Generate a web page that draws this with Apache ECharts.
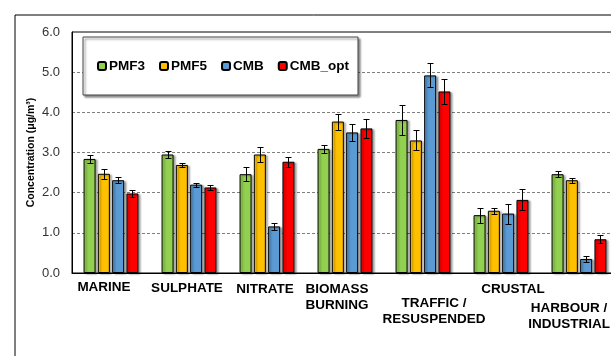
<!DOCTYPE html>
<html><head><meta charset="utf-8">
<script src="https://cdn.jsdelivr.net/npm/echarts@6/dist/echarts.min.js"></script>
<style>html,body{margin:0;padding:0;background:#fff;overflow:hidden}#c{width:611px;height:356px}</style>
</head><body><div id="c"></div>
<script>
const categories = ['MARINE','SULPHATE','NITRATE','BIOMASS\nBURNING','TRAFFIC /\nRESUSPENDED','CRUSTAL','HARBOUR /\nINDUSTRIAL'];
const seriesNames = ['PMF3','PMF5','CMB','CMB_opt'];
const pmf3    = [2.84, 2.95, 2.46, 3.09, 3.81, 1.44, 2.46];
const pmf3Err = [0.10, 0.075, 0.17, 0.10, 0.37, 0.19, 0.075];
const pmf5    = [2.47, 2.69, 2.95, 3.77, 3.30, 1.55, 2.31];
const pmf5Err = [0.13, 0.04, 0.18, 0.20, 0.25, 0.07, 0.06];
const cmb     = [2.31, 2.20, 1.16, 3.50, 4.92, 1.48, 0.35];
const cmbErr  = [0.08, 0.05, 0.09, 0.21, 0.30, 0.25, 0.075];
const cmbOpt    = [1.98, 2.13, 2.77, 3.60, 4.52, 1.82, 0.84];
const cmbOptErr = [0.08, 0.06, 0.13, 0.23, 0.31, 0.26, 0.10];
const yMin = 0, yMax = 6, yStep = 1;

const colors = ['#92D050', '#FFC000', '#5B9BD5', '#FF0000'];
const values = [pmf3, pmf5, cmb, cmbOpt];
const errors = [pmf3Err, pmf5Err, cmbErr, cmbOptErr];

const BAR_W = 12, GAP = 2.3, PITCH = BAR_W + GAP;
const labelShift = [-7, -2, -2, -8, 11, 12, -10];
const labelDrop  = [0, 1, 2, 2, 16, 2, 21];

const rich = {};
labelShift.forEach((s, i) => {
  rich['t' + i] = {
    fontFamily: 'Liberation Sans, Arial, sans-serif', fontWeight: 'bold', fontSize: 13.5,
    color: '#000', lineHeight: 16,
    padding: s >= 0 ? [0, 0, 0, 2 * s] : [0, -2 * s, 0, 0]
  };
  rich['g' + i] = { fontSize: 1, lineHeight: Math.max(labelDrop[i], 0.01), height: labelDrop[i] };
});

function errRender(k) {
  return function (params, api) {
    const i = api.value(0), v = api.value(1), e = api.value(2);
    const x = Math.round(api.coord([i, v])[0] + (k - 1.5) * PITCH) + 0.5;
    const yT = Math.round(api.coord([i, v + e])[1]) + 0.5;
    const yB = Math.round(api.coord([i, v - e])[1]) + 0.5;
    const st = { stroke: '#000', lineWidth: 1 };
    return { type: 'group', children: [
      { type: 'line', shape: { x1: x, y1: yT, x2: x, y2: yB }, style: st },
      { type: 'line', shape: { x1: x - 3, y1: yT, x2: x + 3, y2: yT }, style: st },
      { type: 'line', shape: { x1: x - 3, y1: yB, x2: x + 3, y2: yB }, style: st }
    ]};
  };
}

const series = [];
seriesNames.forEach((n, k) => {
  series.push({
    name: n, type: 'bar', data: values[k], barWidth: BAR_W, barGap: (GAP / BAR_W * 100) + '%',
    barCategoryGap: '29%',
    itemStyle: { color: colors[k], borderColor: '#000', borderWidth: 1,
      shadowColor: 'rgba(0,0,0,0.35)', shadowBlur: 2, shadowOffsetX: 2, shadowOffsetY: 1 },
    emphasis: { disabled: true }, animation: false
  });
});
seriesNames.forEach((n, k) => {
  series.push({
    type: 'custom', renderItem: errRender(k), z: 10, animation: false,
    encode: { x: 0, y: 1 },
    data: values[k].map((v, i) => [i, v, errors[k][i]])
  });
});

const chart = echarts.init(document.getElementById('c'), null, { renderer: 'canvas' });
chart.setOption({
  animation: false,
  graphic: [{ type: 'rect', left: 12.5, top: 12.5, shape: { width: 700, height: 500 },
    style: { fill: 'none', stroke: '#000', lineWidth: 1 }, silent: true, z: -1 }],
  grid: { left: 72, top: 32, width: 546, height: 241, show: true, borderColor: '#000', borderWidth: 1,
    outerBoundsMode: 'none', containLabel: false },
  legend: {
    data: seriesNames, left: 83, top: 37, orient: 'horizontal',
    padding: [22, 9, 22, 14], itemGap: 14, itemWidth: 8, itemHeight: 8,
    backgroundColor: '#fff', borderColor: '#444', borderWidth: 1,
    shadowColor: 'rgba(0,0,0,0.45)', shadowBlur: 2, shadowOffsetX: 2, shadowOffsetY: 2,
    textStyle: { fontFamily: 'Liberation Sans, Arial, sans-serif', fontWeight: 'bold', fontSize: 13.5, color: '#000', padding: [0, 0, 0, -2] },
    selectedMode: false
  },
  xAxis: {
    type: 'category', data: categories,
    axisLine: { lineStyle: { color: '#000', width: 1 } },
    axisTick: { show: false },
    axisLabel: {
      interval: 0, margin: 6, hideOverlap: false,
      formatter: function (value, idx) {
        const lines = value.split('\n');
        let s = labelDrop[idx] > 0 ? '{g' + idx + '| }\n' : '';
        return s + lines.map(l => '{t' + idx + '|' + l + '}').join('\n');
      },
      rich: rich
    }
  },
  yAxis: {
    type: 'value', min: yMin, max: yMax, interval: yStep,
    name: 'Concentration (μg/m³)', nameLocation: 'middle', nameGap: 35, nameMoveOverlap: false,
    nameTextStyle: { fontFamily: 'Liberation Sans, Arial, sans-serif', fontWeight: 'bold', fontSize: 10.5, color: '#000' },
    axisLine: { show: true, lineStyle: { color: '#000', width: 1 } },
    axisTick: { show: false },
    axisLabel: { formatter: v => v.toFixed(1), margin: 12,
      fontFamily: 'Liberation Sans, Arial, sans-serif', fontSize: 13, color: '#333' },
    splitLine: { lineStyle: { color: '#7f7f7f', type: [3, 2], width: 1 } }
  },
  series: series
});
</script></body></html>
